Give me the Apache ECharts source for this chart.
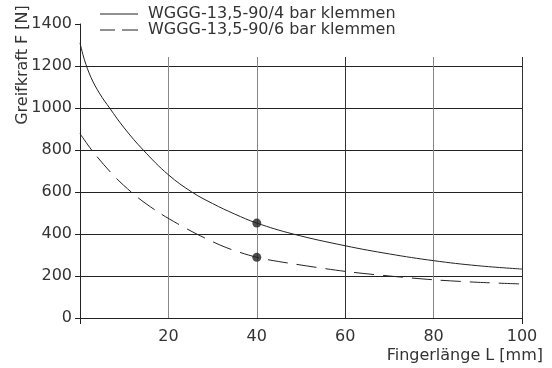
<!DOCTYPE html>
<html>
<head>
<meta charset="utf-8">
<script src="https://cdn.jsdelivr.net/npm/echarts@6/dist/echarts.min.js"></script>
<style>html,body{margin:0;padding:0;background:#fff}#c{width:552px;height:368px}</style>
</head>
<body>
<div id="c"></div>
<script>
var seriesNames = ['WGGG-13,5-90/4 bar klemmen', 'WGGG-13,5-90/6 bar klemmen'];
var solidL = [0, 1, 2.5, 4.5, 6.7, 10, 14.3, 20, 25.3, 30, 35, 40, 48.2, 60, 70, 80, 90, 100];
var solidF = [1310, 1230, 1145, 1067, 1000, 905, 800, 682, 600, 545, 495, 452, 400, 344, 305, 273, 249, 233];
var dashedL = [0, 3, 8, 13, 18, 22, 26.4, 33, 40, 47, 60, 70, 80, 90, 100];
var dashedF = [878, 790, 670, 575, 500, 450, 400, 336, 289, 262, 222, 200, 182, 170, 162];
var markL = [40, 40];
var markF = [452, 289];
var xTicks = [0, 20, 40, 60, 80, 100];
var yTicks = [0, 200, 400, 600, 800, 1000, 1200, 1400];
var xTitle = 'Fingerlänge L [mm]';
var yTitle = 'Greifkraft F [N]';

function pairs(a, b) { return a.map(function (v, i) { return [v, b[i]]; }); }

var FONT = 'DejaVu Sans';
var TXT = '#333';
var chart = echarts.init(document.getElementById('c'), null, {renderer: 'canvas'});
chart.setOption({
  animation: false,
  textStyle: {fontFamily: FONT},
  grid: [
    {left: 80, right: 30, top: 24, bottom: 50},
    {left: 80, right: 30, top: 57, bottom: 50}
  ],
  xAxis: [
    {gridIndex: 0, type: 'value', min: xTicks[0], max: xTicks[xTicks.length - 1], interval: 20,
      axisLine: {show: true, lineStyle: {color: '#222', width: 1}},
      axisTick: {show: false},
      axisLabel: {color: TXT, fontSize: 16, fontFamily: FONT, margin: 11,
        formatter: function (v) { return v === 0 ? '' : String(v); }},
      splitLine: {show: false}},
    {gridIndex: 1, type: 'value', min: xTicks[0], max: xTicks[xTicks.length - 1], interval: 20,
      axisLine: {show: false}, axisTick: {show: false}, axisLabel: {show: false},
      splitLine: {show: true, lineStyle: {color: ['#333', '#888', '#888', '#333', '#888', '#333'], width: 1}}},
    {gridIndex: 0, type: 'value', min: 0, max: 100, interval: 100, position: 'bottom',
      axisLine: {show: false}, axisLabel: {show: false}, splitLine: {show: false},
      axisTick: {show: true, length: 6, lineStyle: {color: '#222'}}}
  ],
  yAxis: [
    {gridIndex: 0, type: 'value', min: yTicks[0], max: yTicks[yTicks.length - 1], interval: 200,
      axisLine: {show: true, lineStyle: {color: '#222', width: 1}},
      axisTick: {show: true, length: 5, lineStyle: {color: '#222'}},
      axisLabel: {color: TXT, fontSize: 16, fontFamily: FONT, margin: 8,
        formatter: function (v) { return String(v); }},
      splitLine: {show: true, showMinLine: false, showMaxLine: false, lineStyle: {color: '#222', width: 1}}},
    {gridIndex: 1, type: 'value', min: 0, max: 1240, show: false, splitLine: {show: false}}
  ],
  legend: {
    left: 100, top: 6, orient: 'vertical', itemWidth: 38, itemHeight: 1, itemGap: 0, padding: 0,
    itemStyle: {color: '#222', borderWidth: 0},
    textStyle: {fontSize: 16, lineHeight: 15, color: TXT, fontFamily: FONT, padding: [0, 0, 0, 5]},
    data: [
      {name: seriesNames[0], icon: 'path://M0,0H38V1H0Z'},
      {name: seriesNames[1], icon: 'path://M0,0H15V1H0ZM22,0H38V1H22Z'}
    ]
  },
  series: [
    {name: seriesNames[0], type: 'line', xAxisIndex: 0, yAxisIndex: 0, data: pairs(solidL, solidF),
      symbol: 'none', smooth: 0.4, lineStyle: {color: '#222', width: 1}, itemStyle: {color: '#222'}},
    {name: seriesNames[1], type: 'line', xAxisIndex: 0, yAxisIndex: 0, data: pairs(dashedL, dashedF),
      symbol: 'none', smooth: 0.3, lineStyle: {color: '#222', width: 1, type: [20, 9]}, itemStyle: {color: '#222'}},
    {name: 'points', type: 'scatter', xAxisIndex: 0, yAxisIndex: 0, data: pairs(markL, markF),
      symbol: 'circle', symbolSize: 9, itemStyle: {color: '#222'}}
  ],
  graphic: [
    {type: 'text', x: 23, y: 65, rotation: Math.PI / 2,
      style: {text: yTitle, fontSize: 16, fontFamily: FONT, fill: TXT, align: 'center', verticalAlign: 'middle'}},
    {type: 'text', x: 543, y: 356,
      style: {text: xTitle, fontSize: 16, fontFamily: FONT, fill: TXT, align: 'right', verticalAlign: 'middle'}}
  ]
});
</script>
</body>
</html>
